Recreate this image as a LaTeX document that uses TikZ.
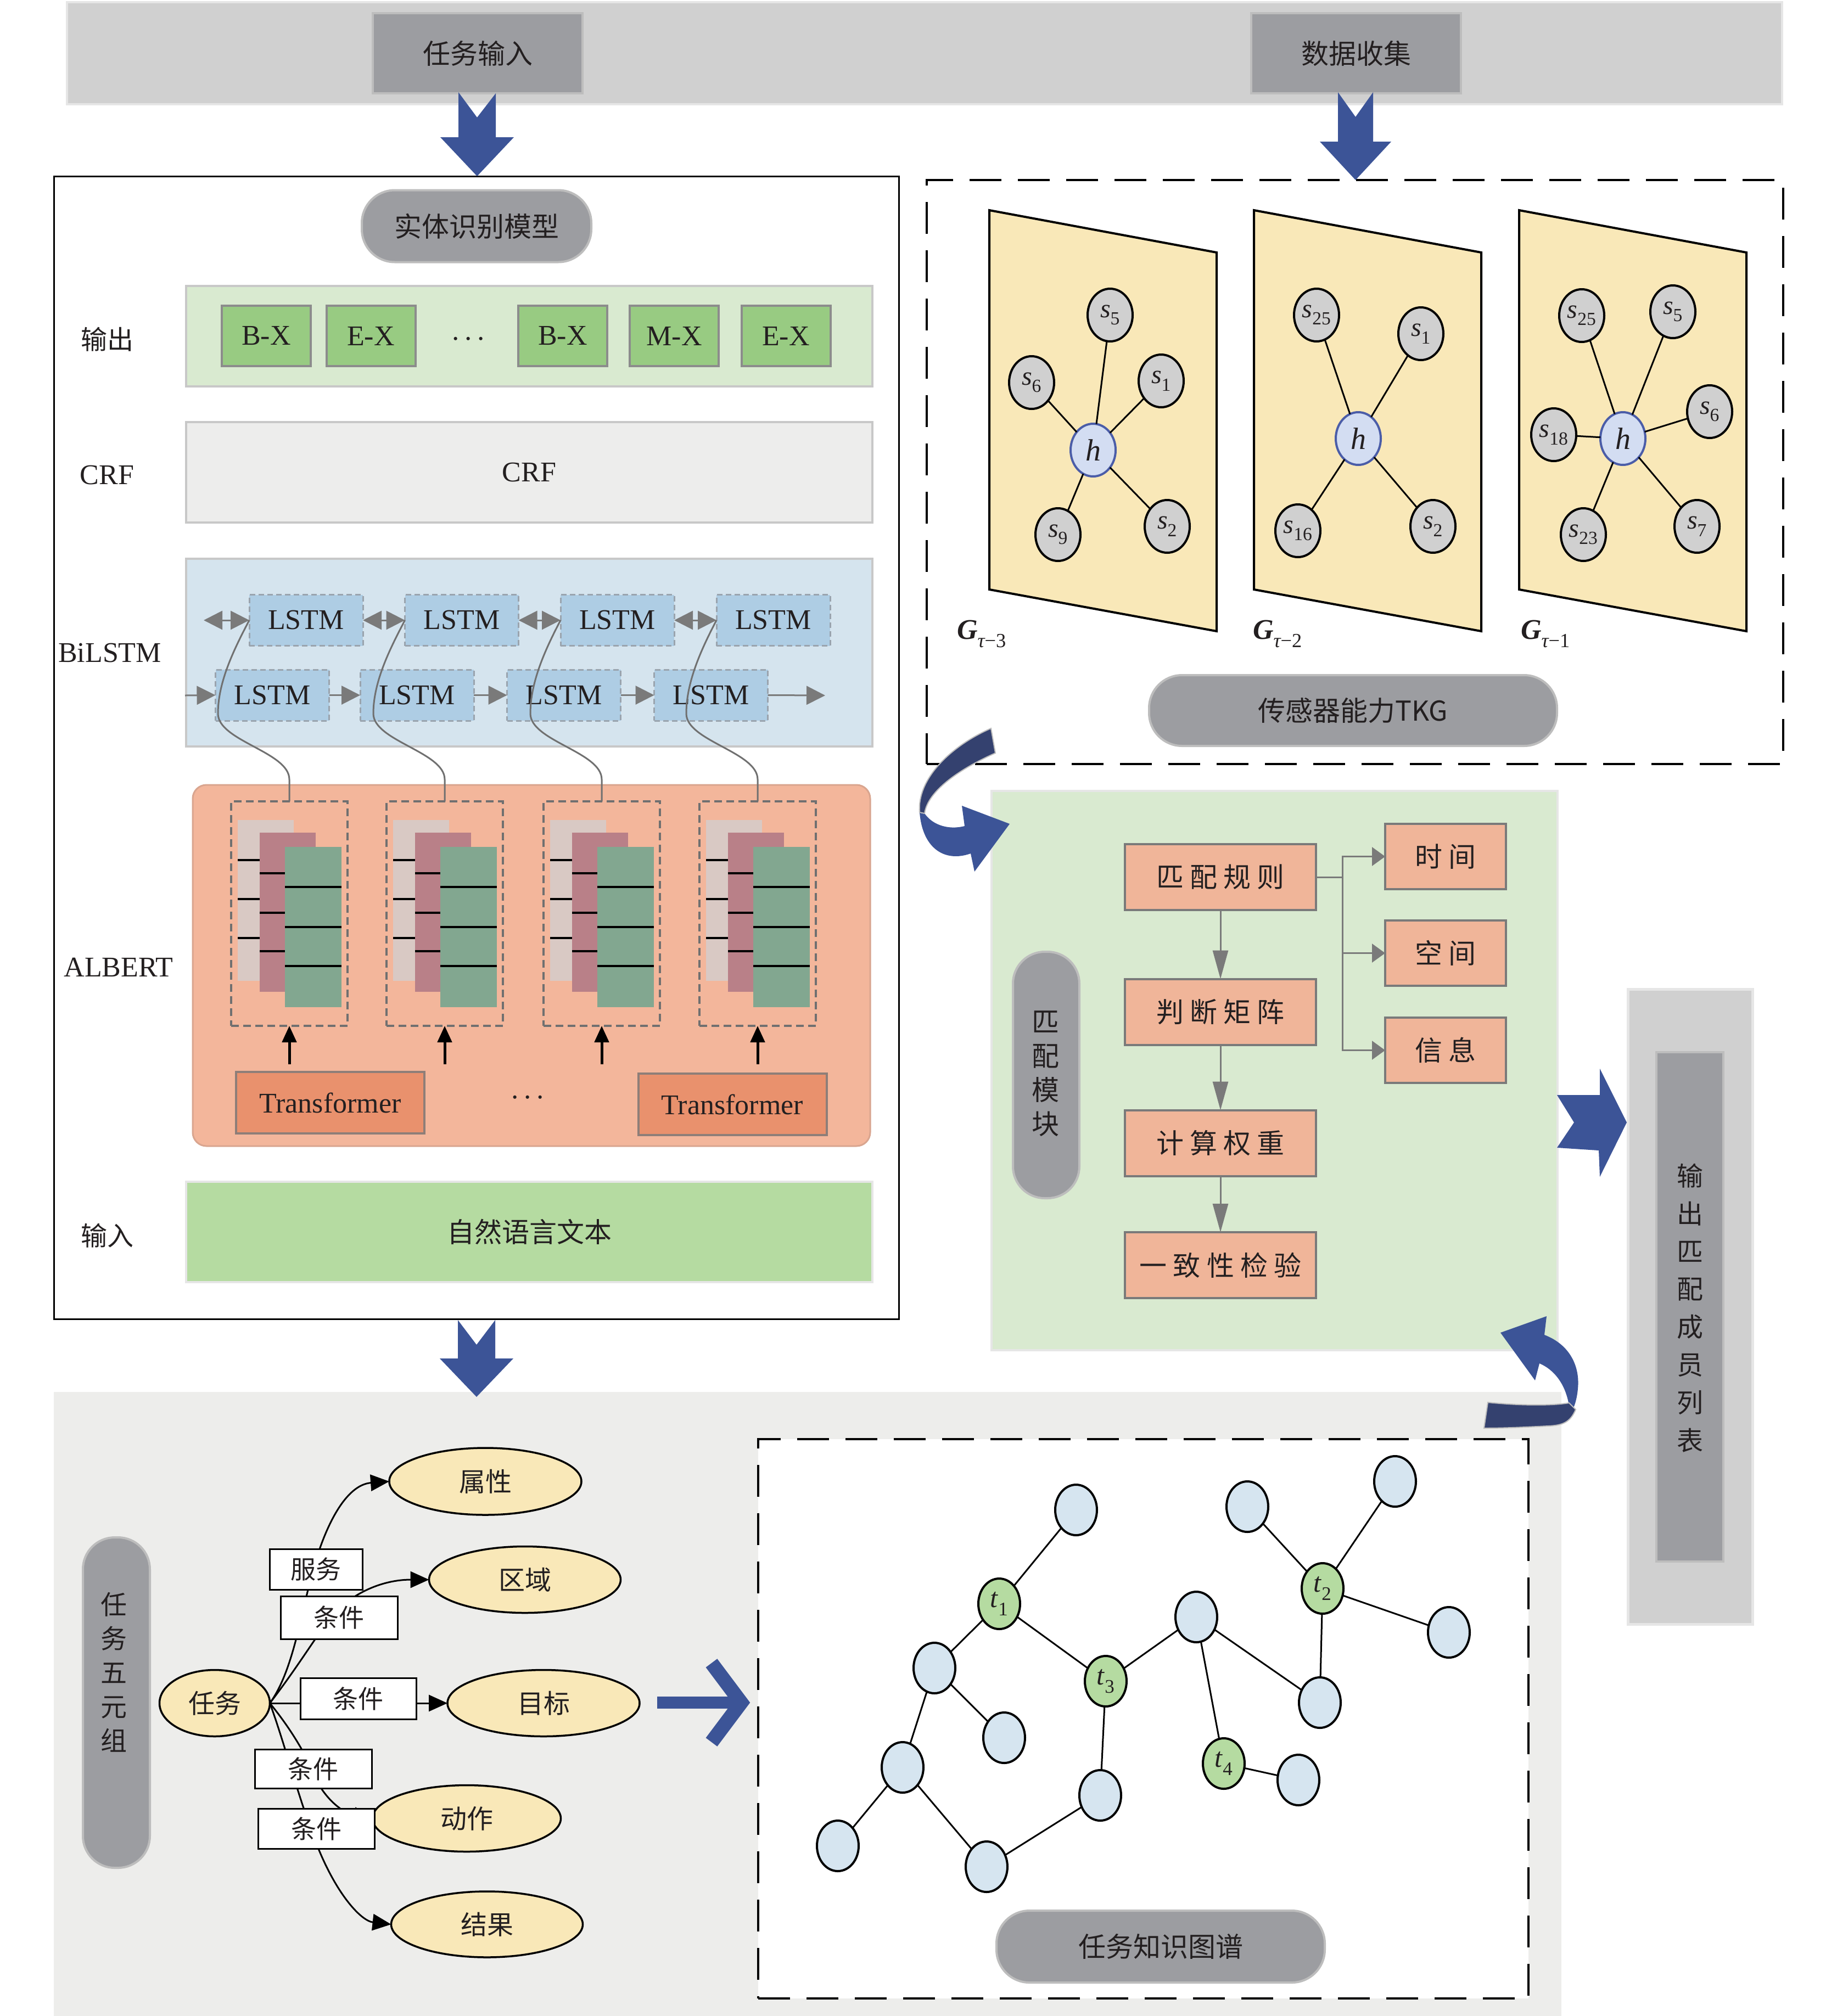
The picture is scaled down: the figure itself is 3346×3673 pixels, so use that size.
\documentclass[tikz,border=0pt]{standalone}
\usepackage{fontspec}
\setmainfont{Liberation Serif}
\newfontfamily\cjk{Noto Sans CJK SC}
\usetikzlibrary{arrows.meta,shapes.geometric,calc}
\newcommand\myfs[1]{\fontsize{#1}{#1}\selectfont}
\newcommand\svar[1]{\textit{s}\textsubscript{#1}}
\newcommand\tvar[1]{\textit{t}\textsubscript{#1}}
\definecolor{txt}{HTML}{231F20}
\definecolor{bandgray}{HTML}{D0D0D0}
\definecolor{bandedge}{HTML}{E6E6E6}
\definecolor{pillgray}{HTML}{9C9DA1}
\definecolor{pilledge}{HTML}{BDBDBD}
\definecolor{ablue}{HTML}{3C5497}
\definecolor{navy}{HTML}{34416F}
\definecolor{lgreen}{HTML}{D9EAD0}
\definecolor{mgreen}{HTML}{98CB82}
\definecolor{boxedge}{HTML}{8C8C8C}
\definecolor{crfbg}{HTML}{EDEDEC}
\definecolor{lstmbg}{HTML}{D5E4EE}
\definecolor{lstmfill}{HTML}{AECDE4}
\definecolor{dashgray}{HTML}{9AA4AE}
\definecolor{albbg}{HTML}{F3B69B}
\definecolor{albedge}{HTML}{D9A58F}
\definecolor{layA}{HTML}{D9C9C4}
\definecolor{layB}{HTML}{B98088}
\definecolor{layC}{HTML}{82A790}
\definecolor{trans}{HTML}{E9916D}
\definecolor{transedge}{HTML}{8E7E78}
\definecolor{ingreen}{HTML}{B5DBA1}
\definecolor{panelyellow}{HTML}{F9E8B8}
\definecolor{sgray}{HTML}{D0D0D0}
\definecolor{hfill}{HTML}{D3DDF2}
\definecolor{hedge}{HTML}{4B5DA8}
\definecolor{mbox}{HTML}{F0B599}
\definecolor{mboxedge}{HTML}{7A7A7A}
\definecolor{botbg}{HTML}{EDEDEB}
\definecolor{gblue}{HTML}{D6E5F0}
\definecolor{ggreen}{HTML}{B5DBA1}
\definecolor{edgegray}{HTML}{C8C8C8}
\definecolor{linegray}{HTML}{7A7A7A}
\definecolor{curvegray}{HTML}{707070}
\begin{document}
\begin{tikzpicture}[x=1pt,y=-1pt,
  every node/.style={text=txt,inner sep=0pt,outer sep=0pt},
  sz/.style n args={2}{minimum width=#1,minimum height=#2},
  pill/.style={rectangle,rounded corners=#1,fill=pillgray,draw=pilledge,line width=4pt},
  pill/.default=55,
  gbox/.style={fill=mgreen,draw=boxedge,line width=4pt,sz={162}{110},font=\myfs{52}},
  lstm/.style={fill=lstmfill,draw=dashgray,dash pattern=on 10pt off 6pt,line width=3pt,sz={207}{93},font=\myfs{52}},
  darr/.style={draw=linegray,line width=3pt,{Triangle[length=34pt,width=34pt]}-{Triangle[length=34pt,width=34pt]}},
  sarr/.style={draw=linegray,line width=3pt,-{Triangle[length=34pt,width=34pt]}},
  bcurve/.style={draw=curvegray,line width=3pt},
  uarr/.style={draw=black,line width=5pt,-{Triangle[length=30pt,width=26pt]}},
  layline/.style={draw=black,line width=4pt},
  panelst/.style={fill=panelyellow,draw=black,line width=4pt},
  sn/.style={ellipse,fill=sgray,draw=black,line width=4pt,sz={82}{96},font=\myfs{48}},
  hn/.style={ellipse,fill=hfill,draw=hedge,line width=4pt,sz={82}{96},font=\myfs{56}},
  tl/.style={draw=black,line width=3pt},
  mb/.style={fill=mbox,draw=mboxedge,line width=4pt,font=\cjk\myfs{50}},
  marr/.style={draw=linegray,line width=3pt,-{Triangle[length=52pt,width=28pt]}},
  rarr/.style={draw=linegray,line width=3pt,-{Triangle[length=24pt,width=34pt]}},
  ell/.style={ellipse,fill=panelyellow,draw=black,line width=3.5pt,font=\cjk\myfs{48}},
  lab/.style={fill=white,draw=black,line width=3pt,font=\cjk\myfs{46}},
  tarr/.style={draw=black,line width=3pt,-{Triangle[length=34pt,width=30pt]}},
  gn/.style={ellipse,fill=gblue,draw=black,line width=4pt,sz={76}{92}},
  gt/.style={gn,fill=ggreen,font=\myfs{50}}
]
\fill[white] (0,0) rectangle (3346,3673);
\useasboundingbox (0,0) rectangle (3346,3673);

% ---------- top band
\node[fill=bandgray,draw=bandedge,line width=4pt,sz={3124}{186}] (band) at (1684,97) {};
\node[fill=pillgray,draw=pilledge,line width=4pt,sz={382}{146},font=\cjk\myfs{50}] (tin) at (870,97) {任务输入};
\node[fill=pillgray,draw=pilledge,line width=4pt,sz={382}{146},font=\cjk\myfs{50}] (dcol) at (2470,97) {数据收集};

% ---------- entity recognition model
\node[draw=black,line width=3pt,sz={1539}{2082}] (lbox) at (867.5,1362) {};
\node[pill=60,sz={418}{131},font=\cjk\myfs{50}] (erm) at (868,412) {实体识别模型};

\node[fill=lgreen,draw=edgegray,line width=4pt,sz={1250}{183}] (outrow) at (964,612.5) {};
\node[font=\cjk\myfs{48}] (lblout) at (195,618) {输出};
\node[gbox] (o1) at (485,612) {B-X};
\node[gbox] (o2) at (675.5,612) {E-X};
\node[font=\myfs{52}] (odots) at (853,624) {·\hspace{6pt}·\hspace{6pt}·};
\node[gbox] (o3) at (1025,612) {B-X};
\node[gbox] (o4) at (1228,612) {M-X};
\node[gbox] (o5) at (1431.5,612) {E-X};

\node[fill=crfbg,draw=edgegray,line width=4pt,sz={1250}{183},font=\myfs{52}] (crf) at (964,860.5) {CRF};
\node[font=\myfs{52}] (lblcrf) at (195,866) {CRF};

% ALBERT
\node[fill=albbg,draw=albedge,line width=3pt,rounded corners=25pt,sz={1234}{658}] (alb) at (968,1759) {};
\node[font=\myfs{52}] (lblalb) at (216,1762) {ALBERT};
\foreach \L [count=\i] in {421,704,990,1274} {
  \fill[layA] (\L+12,1494) rectangle (\L+114,1787);
  \foreach \yy in {1567,1638,1709} \draw[layline] (\L+12,\yy) -- (\L+114,\yy);
  \fill[layB] (\L+52,1517) rectangle (\L+154,1807);
  \foreach \yy in {1591,1663,1733} \draw[layline] (\L+52,\yy) -- (\L+154,\yy);
  \fill[layC] (\L+98,1543) rectangle (\L+201,1835);
  \foreach \yy in {1616,1689,1760} \draw[layline] (\L+98,\yy) -- (\L+201,\yy);
  \node[draw=curvegray,dash pattern=on 14pt off 8pt,line width=4pt,sz={212}{409}] (alb\i) at (\L+106,1664.5) {};
  \coordinate (ua\i) at (\L+106,1939);
  \draw[uarr] (ua\i) -- (alb\i.south);
}
\node[fill=trans,draw=transedge,line width=4pt,sz={343}{112},font=\myfs{52}] (tr1) at (601.5,2009) {Transformer};
\node[fill=trans,draw=transedge,line width=4pt,sz={343}{112},font=\myfs{52}] (tr2) at (1334,2012) {Transformer};
\node[font=\myfs{52}] (adots) at (961,2006) {·\hspace{6pt}·\hspace{6pt}·};

% BiLSTM
\node[fill=lstmbg,draw=edgegray,line width=4pt,sz={1250}{342}] (bil) at (964,1189) {};
\node[font=\myfs{52}] (lblbil) at (200,1190) {BiLSTM};
\node[lstm] (lt1) at (557.5,1130) {LSTM};
\node[lstm] (lt2) at (841,1130) {LSTM};
\node[lstm] (lt3) at (1124.5,1130) {LSTM};
\node[lstm] (lt4) at (1408.5,1130) {LSTM};
\node[lstm] (lb1) at (496,1266.5) {LSTM};
\node[lstm] (lb2) at (759.5,1266.5) {LSTM};
\node[lstm] (lb3) at (1027,1266.5) {LSTM};
\node[lstm] (lb4) at (1295,1266.5) {LSTM};
\coordinate (tl0) at (371,1130);
\draw[darr] (tl0) -- (lt1.west);
\draw[darr] (lt1.east) -- (lt2.west);
\draw[darr] (lt2.east) -- (lt3.west);
\draw[darr] (lt3.east) -- (lt4.west);
\coordinate (bs0) at (337,1267);
\coordinate (bs5) at (1503,1267);
\draw[sarr] (bs0) -- (lb1.west);
\draw[sarr] (lb1.east) -- (lb2.west);
\draw[sarr] (lb2.east) -- (lb3.west);
\draw[sarr] (lb3.east) -- (lb4.west);
\draw[sarr] (lb4.east) -- (bs5);
\foreach \i in {1,2,3,4}
  \draw[bcurve] (alb\i.north) -- ++(0,-40) .. controls +(0,-50) and +(0,50) .. ++(-130,-120) .. controls +(0,-60) and +(-25,48) .. (lt\i.west);

% input
\node[fill=ingreen,draw=bandedge,line width=4pt,sz={1250}{183},font=\cjk\myfs{50}] (inp) at (964,2244.5) {自然语言文本};
\node[font=\cjk\myfs{48}] (lblin) at (195,2251) {输入};

% ---------- sensor TKG
\node[draw=black,dash pattern=on 58pt off 30pt,line width=4pt,sz={1560}{1064}] (tkg) at (2468,860) {};
\draw[panelst] (1802,383) -- (2216,460) -- (2216,1150) -- (1802,1074) -- cycle;
\draw[panelst] (2284,383) -- (2698,460) -- (2698,1150) -- (2284,1074) -- cycle;
\draw[panelst] (2767,383) -- (3181,460) -- (3181,1150) -- (2767,1074) -- cycle;

\node[hn] (p1h) at (1991,820) {\itshape h};
\node[sn] (p1s5) at (2022,574) {\svar{5}};
\node[sn] (p1s6) at (1879,697) {\svar{6}};
\node[sn] (p1s1) at (2115,694) {\svar{1}};
\node[sn] (p1s9) at (1927,974) {\svar{9}};
\node[sn] (p1s2) at (2126,959) {\svar{2}};
\foreach \n in {p1s5,p1s6,p1s1,p1s9,p1s2} \draw[tl] (p1h) -- (\n);

\node[hn] (p2h) at (2474,799) {\itshape h};
\node[sn] (p2s25) at (2398,574) {\svar{25}};
\node[sn] (p2s1) at (2588,608) {\svar{1}};
\node[sn] (p2s16) at (2364,967) {\svar{16}};
\node[sn] (p2s2) at (2610,959) {\svar{2}};
\foreach \n in {p2s25,p2s1,p2s16,p2s2} \draw[tl] (p2h) -- (\n);

\node[hn] (p3h) at (2956,799) {\itshape h};
\node[sn] (p3s25) at (2881,575) {\svar{25}};
\node[sn] (p3s5) at (3047,568) {\svar{5}};
\node[sn] (p3s6) at (3114,750) {\svar{6}};
\node[sn] (p3s18) at (2830,792) {\svar{18}};
\node[sn] (p3s23) at (2884,974) {\svar{23}};
\node[sn] (p3s7) at (3091,959) {\svar{7}};
\foreach \n in {p3s25,p3s5,p3s6,p3s18,p3s23,p3s7} \draw[tl] (p3h) -- (\n);

\node[anchor=west,font=\myfs{52}] (gl1) at (1743,1155) {{\bfseries\itshape G}\textsubscript{\itshape τ\upshape −3}};
\node[anchor=west,font=\myfs{52}] (gl2) at (2282,1155) {{\bfseries\itshape G}\textsubscript{\itshape τ\upshape −2}};
\node[anchor=west,font=\myfs{52}] (gl3) at (2770,1155) {{\bfseries\itshape G}\textsubscript{\itshape τ\upshape −1}};
\node[pill=60,sz={743}{129},font=\cjk\myfs{50}] (tkgp) at (2464.5,1294.5) {传感器能力TKG};

% ---------- matching module
\node[fill=lgreen,draw=bandedge,line width=4pt,sz={1031}{1019}] (mm) at (2321,1950.5) {};
\node[pill=58,sz={121}{449}] (mmp) at (1905.5,1958.5) {};
\node[font=\cjk\fontsize{50}{62}\selectfont,align=center] (mmpt) at (1904.5,1956) {匹\\配\\模\\块};
\node[mb,sz={348}{120}] (r1) at (2223,1598) {匹 配 规 则};
\node[mb,sz={348}{120}] (r2) at (2223,1843.5) {判 断 矩 阵};
\node[mb,sz={348}{120}] (r3) at (2223,2082.5) {计 算 权 重};
\node[mb,sz={348}{120}] (r4) at (2223,2305) {一 致 性 检 验};
\node[mb,sz={220}{119}] (c1) at (2633,1560.5) {时 间};
\node[mb,sz={220}{119}] (c2) at (2633,1736.5) {空 间};
\node[mb,sz={220}{119}] (c3) at (2633,1913.5) {信 息};
\draw[marr] (r1) -- (r2);
\draw[marr] (r2) -- (r3);
\draw[marr] (r3) -- (r4);
\draw[rarr] (r1.east) -- ++(48,0) |- (c1.west);
\draw[rarr] (r1.east) -- ++(48,0) |- (c2.west);
\draw[rarr] (r1.east) -- ++(48,0) |- (c3.west);

% ---------- output list
\node[fill=bandgray,draw=bandedge,line width=5pt,sz={227}{1157}] (ob) at (3078.5,2380.5) {};
\node[fill=pillgray,draw=pilledge,line width=4pt,sz={122}{928}] (obi) at (3078,2381) {};
\node[font=\cjk\fontsize{48}{68.8}\selectfont,align=center] (obt) at (3078,2383) {输\\出\\匹\\配\\成\\员\\列\\表};

% ---------- bottom section
\node[fill=botbg,sz={2746}{1137}] (bot) at (1471,3104.5) {};
\node[fill=white,draw=black,dash pattern=on 58pt off 30pt,line width=4pt,sz={1403}{1019}] (kgbox) at (2082.5,3131.5) {};

\node[pill=58,sz={122}{602}] (p5) at (212,3102) {};
\node[font=\cjk\fontsize{48}{62}\selectfont,align=center] (p5t) at (207,3047) {任\\务\\五\\元\\组};

\node[ell,sz={201}{121}] (task) at (391,3103) {任务};
\node[ell,sz={350}{122}] (attr) at (884,2699) {属性};
\node[ell,sz={349}{121}] (reg) at (956,2878) {区域};
\node[ell,sz={350}{121}] (tgt) at (990,3103) {目标};
\node[ell,sz={343}{121}] (act) at (850,3313) {动作};
\node[ell,sz={349}{120}] (res) at (887,3506) {结果};

\draw[tarr] (task.east) .. controls (530,3050) and (545,2960) .. (565,2880) .. controls (590,2780) and (630,2705) .. (attr.west);
\draw[tarr] (task.east) .. controls (540,3040) and (570,2990) .. (600,2950) .. controls (640,2900) and (700,2878) .. (reg.west);
\draw[tarr] (task.east) -- (tgt.west);
\draw[tarr] (task.east) .. controls (530,3150) and (560,3200) .. (580,3250) .. controls (600,3285) and (630,3305) .. (act.west);
\draw[tarr] (task.east) .. controls (520,3180) and (550,3300) .. (585,3380) .. controls (620,3460) and (660,3500) .. (res.west);

\node[lab,sz={169}{74}] (fw) at (575.5,2859) {服务};
\node[lab,sz={213}{78}] (ca) at (617.5,2947) {条件};
\node[lab,sz={211}{75}] (cb) at (652.5,3094.5) {条件};
\node[lab,sz={213}{71}] (cc) at (570.5,3222.5) {条件};
\node[lab,sz={212}{73}] (cd) at (576,3331.5) {条件};

% knowledge graph
\node[gn] (g1) at (1960,2751) {};
\node[gt] (t1) at (1820,2922) {\tvar{1}};
\node[gn] (g2) at (1702,3039) {};
\node[gn] (g3) at (1829,3166) {};
\node[gn] (g4) at (1644,3220) {};
\node[gn] (g5) at (1526,3363) {};
\node[gn] (g6) at (1797,3401) {};
\node[gt] (t3) at (2014,3063) {\tvar{3}};
\node[gn] (g7) at (2004,3271) {};
\node[gn] (g8) at (2179,2946) {};
\node[gt] (t4) at (2229,3213) {\tvar{4}};
\node[gn] (g9) at (2365,3243) {};
\node[gn] (g10) at (2272,2745) {};
\node[gt] (t2) at (2409,2894) {\tvar{2}};
\node[gn] (g11) at (2541,2699) {};
\node[gn] (g12) at (2639,2974) {};
\node[gn] (g13) at (2404,3102) {};
\foreach \a/\b in {g1/t1,t1/g2,t1/t3,g2/g3,g2/g4,g4/g5,g4/g6,g6/g7,g7/t3,t3/g8,g8/t4,g8/g13,t4/g9,g10/t2,g11/t2,t2/g12,t2/g13}
  \draw[tl] (\a) -- (\b);
\node[pill=60,sz={598}{131},font=\cjk\myfs{50}] (kgp) at (2114,3546.5) {任务知识图谱};

% ---------- blue block arrows
\fill[ablue,shift={(869,0)}] (-34,168) -- (0,214) -- (34,170) -- (34,250) -- (67,250) -- (0,321) -- (-67,250) -- (-34,250) -- cycle;
\fill[ablue,shift={(2469,0)}] (-32,168) -- (0,213) -- (32,168) -- (32,258) -- (65,258) -- (0,328) -- (-65,258) -- (-32,258) -- cycle;
\fill[ablue,shift={(868,0)}] (-34,2405) -- (0,2450) -- (34,2405) -- (34,2475) -- (67,2475) -- (0,2545) -- (-67,2475) -- (-34,2475) -- cycle;
\fill[ablue] (2836,1995) -- (2914,1995) -- (2914,1947) -- (2963,2045) -- (2914,2144) -- (2912,2096) -- (2836,2091) -- (2867,2045) -- cycle;
\draw[ablue,line width=22pt] (1197,3102) -- (1345,3102);
\draw[ablue,line width=26pt] (1296,3030) -- (1350,3102) -- (1296,3174);
% curved arrow TKG -> matching
\fill[ablue] (1839,1501) -- (1775,1588) -- (1768,1555) .. controls (1720,1572) and (1680,1545) .. (1675,1480) .. controls (1670,1420) and (1730,1360) .. (1805,1327) -- (1813,1372) .. controls (1750,1400) and (1690,1440) .. (1684,1482) .. controls (1700,1505) and (1730,1512) .. (1757,1505) -- (1752,1468) -- cycle;
\fill[navy,draw=pilledge,line width=2pt] (1805,1327) -- (1813,1372) .. controls (1750,1400) and (1690,1440) .. (1684,1482) -- (1675,1480) .. controls (1670,1420) and (1730,1360) .. (1805,1327) -- cycle;
% curved arrow KG -> matching
\fill[ablue] (2733,2428) -- (2817,2398) -- (2813,2432) .. controls (2860,2450) and (2878,2490) .. (2874,2530) .. controls (2870,2575) and (2850,2597) .. (2820,2598) .. controls (2780,2600) and (2740,2602) .. (2703,2602) -- (2710,2555) .. controls (2760,2560) and (2820,2562) .. (2857,2556) .. controls (2850,2520) and (2830,2495) .. (2804,2484) -- (2796,2515) -- cycle;
\fill[navy,draw=pilledge,line width=2pt] (2710,2555) .. controls (2760,2560) and (2820,2562) .. (2858,2556) -- (2870,2568) .. controls (2860,2592) and (2845,2597) .. (2820,2598) .. controls (2780,2600) and (2740,2602) .. (2703,2602) -- cycle;
\end{tikzpicture}
\end{document}
